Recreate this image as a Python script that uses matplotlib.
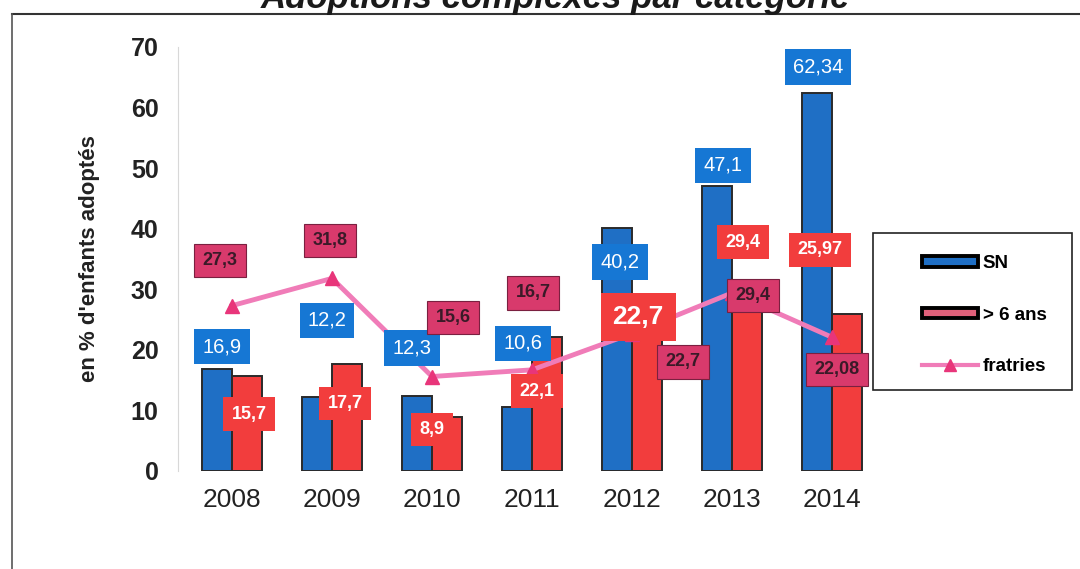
import numpy as np
import matplotlib
matplotlib.use('Agg')
import matplotlib.pyplot as plt
from matplotlib.patches import Patch, Rectangle
from matplotlib.lines import Line2D

plt.rcParams['font.family'] = ['Liberation Sans', 'DejaVu Sans']

years = ['2008', '2009', '2010', '2011', '2012', '2013', '2014']
sn = [16.9, 12.2, 12.3, 10.6, 40.2, 47.1, 62.34]
plus6 = [15.7, 17.7, 8.9, 22.1, 22.7, 29.4, 25.97]
fratries = [27.3, 31.8, 15.6, 16.7, 22.7, 29.4, 22.08]

# where each value box sits: (shift from group centre, height on the y scale)
sn_lab = [(-0.10, 20.5), (-0.05, 24.9), (-0.20, 20.3), (-0.09, 21.1),
          (-0.12, 34.5), (-0.09, 50.5), (-0.14, 66.7)]
p6_lab = [(0.17, 9.4), (0.13, 11.1), (0.00, 6.8), (0.05, 13.2),
          (0.06, 25.4), (0.11, 37.8), (-0.12, 36.5)]
fr_lab = [(-0.12, 34.8), (-0.02, 38.1), (0.21, 25.4), (0.01, 29.4),
          (0.51, 18.0), (0.21, 29.0), (0.05, 16.7)]

blue = '#1f6fc5'
red = '#f23d3d'
pink_line = '#f07cb8'
pink_mark = '#e8357a'
pink_box = '#d83a6c'


def fmt(v):
    return ('%g' % v).replace('.', ',')


fig = plt.figure(figsize=(10.8, 5.69), dpi=100)
ax = fig.add_axes([178 / 1080, 1 - 471 / 569, 692 / 1080, 424 / 569])

x = np.arange(len(years))
w = 0.3
ax.bar(x - w / 2, sn, w, color=blue, edgecolor='#2a2a2a', linewidth=1.4, zorder=2)
ax.bar(x + w / 2, plus6, w, color=red, edgecolor='#2a2a2a', linewidth=1.4, zorder=2)
ax.plot(x, fratries, color=pink_line, lw=3.5, marker='^', markersize=10,
        markerfacecolor=pink_mark, markeredgecolor=pink_mark, zorder=3)

for i in range(len(years)):
    dx, ly = sn_lab[i]
    ax.text(i + dx, ly, fmt(sn[i]), ha='center', va='center', color='white',
            fontsize=14.5, zorder=5,
            bbox=dict(boxstyle='square,pad=0.4', fc='#1677d4', ec='none'))
    dx, ly = p6_lab[i]
    big = i == 4
    ax.text(i + dx, ly, fmt(plus6[i]), ha='center', va='center', color='white',
            fontsize=19 if big else 13, fontweight='bold', zorder=5,
            bbox=dict(boxstyle='square,pad=0.45', fc=red, ec='none'))
    dx, ly = fr_lab[i]
    ax.text(i + dx, ly, fmt(fratries[i]), ha='center', va='center', color='#3a1a28',
            fontsize=13, fontweight='bold', zorder=5,
            bbox=dict(boxstyle='square,pad=0.45', fc=pink_box, ec='#7a2040', lw=0.8))

ax.set_xlim(-0.54, 6.38)
ax.set_ylim(0, 70)
ax.set_yticks(range(0, 71, 10))
ax.set_xticks(x)
ax.set_xticklabels(years)
ax.tick_params(axis='y', length=0, pad=14, labelsize=18)
ax.tick_params(axis='x', length=0, pad=12, labelsize=19, labelcolor='#222222')
for t in ax.get_yticklabels():
    t.set_fontweight('bold')
    t.set_color('#222222')
ax.set_ylabel("en % d'enfants adoptés", fontsize=16, fontweight='bold', color='#222222')
ax.yaxis.set_label_coords(-0.113, 0.5)
for s in ['top', 'right', 'bottom']:
    ax.spines[s].set_visible(False)
ax.spines['left'].set_color('#d8d8d8')

fig.text(556 / 1080, 1 - 8 / 569, 'Adoptions complexes par catégorie', ha='center',
         va='baseline', fontsize=25, fontweight='bold', fontstyle='italic', color='#1a1a1a')

# outer frame lines
fig.add_artist(Line2D([12 / 1080, 1], [1 - 14 / 569, 1 - 14 / 569], color='#333333', lw=1.5))
fig.add_artist(Line2D([12 / 1080, 12 / 1080], [0, 1 - 14 / 569], color='#555555', lw=1.2))

# legend box
fig.add_artist(Rectangle((873 / 1080, 1 - 390 / 569), 199 / 1080, 157 / 569,
                         transform=fig.transFigure, fill=False, ec='#222222', lw=1.2))
handles = [Patch(facecolor=blue, edgecolor='black', linewidth=2.8),
           Patch(facecolor='#e0607a', edgecolor='black', linewidth=2.8),
           Line2D([], [], color=pink_line, lw=3, marker='^', markersize=8,
                  markerfacecolor=pink_mark, markeredgecolor=pink_mark)]
fig.legend(handles, ['SN', '> 6 ans', 'fratries'], loc='upper left',
           bbox_to_anchor=(905 / 1080, 1 - 238 / 569), frameon=False,
           prop={'size': 13.5, 'weight': 'bold'}, handlelength=3.0, handleheight=0.5,
           handletextpad=0.25, labelspacing=1.85, borderpad=0.4)

plt.savefig('out.png', dpi=100)
